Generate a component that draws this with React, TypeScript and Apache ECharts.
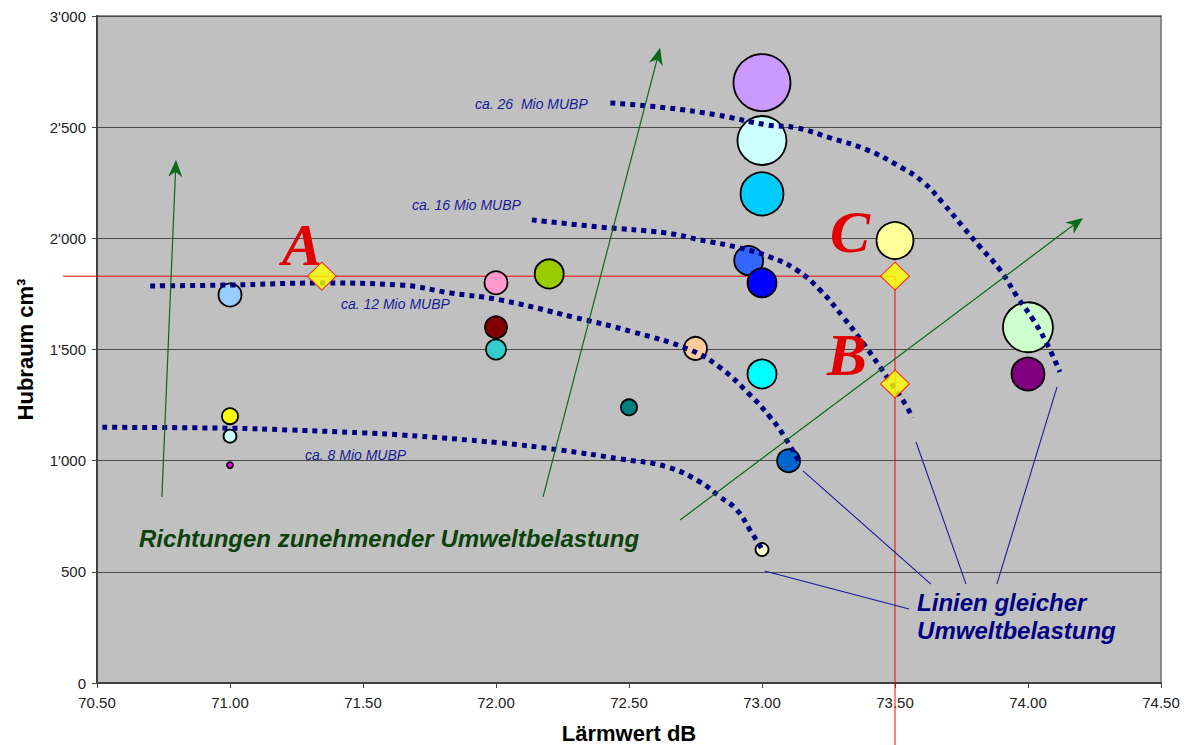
import React, { useEffect, useRef } from "react";
import * as echarts from "echarts";

// ---- Axis ticks ----
const xTicks = [70.5, 71.0, 71.5, 72.0, 72.5, 73.0, 73.5, 74.0, 74.5];
const yTicks = [0, 500, 1000, 1500, 2000, 2500, 3000];

// ---- Vehicles (bubbles): Lärmwert dB, Hubraum cm3, bubble size ----
const bubbleX = [73.0, 73.0, 73.0, 73.5, 72.95, 73.0, 72.2, 72.0, 71.0, 72.0, 72.0, 72.75, 73.0, 74.0, 74.0, 72.5, 73.1, 71.0, 71.0, 71.0, 73.0];
const bubbleY = [2700, 2440, 2200, 1990, 1900, 1800, 1840, 1800, 1745, 1600, 1500, 1505, 1390, 1600, 1390, 1240, 1000, 1200, 1110, 980, 600];
const bubbleSize = [57, 49, 43, 37, 29, 29, 29, 23, 23, 22, 20, 23, 29, 50, 33, 16, 23, 16, 13, 6, 13];
const bubbleColors = ["#CC99FF", "#CCFFFF", "#00CCFF", "#FFFF99", "#3366FF", "#0000FF", "#99CC00", "#FF99CC", "#99CCFF", "#800000", "#33CCCC", "#FFCC99", "#00FFFF", "#CCFFCC", "#800080", "#008080", "#0066CC", "#FFFF00", "#CCFFFF", "#FF00FF", "#FFFFCC"];

// ---- Lines of equal environmental load ----
const line8X = [70.52, 71.0, 71.226, 71.5, 71.64, 72.015, 72.24, 72.466, 72.643, 72.767, 72.842, 72.906, 72.955, 73.0];
const line8Y = [1150, 1146, 1138, 1125, 1116, 1080, 1048, 1008, 972, 904, 837, 778, 688, 602];
const line12X = [70.7, 71.0, 71.34, 71.64, 71.83, 72.015, 72.29, 72.515, 72.73, 72.84, 72.955, 73.03, 73.08, 73.14];
const line12Y = [1786, 1790, 1799, 1790, 1754, 1723, 1646, 1579, 1498, 1421, 1296, 1197, 1116, 994];
const line16X = [72.135, 72.39, 72.64, 72.767, 72.917, 73.03, 73.13, 73.218, 73.305, 73.38, 73.47, 73.545, 73.564];
const line16Y = [2083, 2051, 2024, 1993, 1957, 1916, 1858, 1768, 1646, 1529, 1376, 1242, 1192];
const line26X = [72.43, 72.64, 72.83, 73.02, 73.13, 73.256, 73.395, 73.52, 73.605, 73.68, 73.756, 73.82, 73.895, 73.96, 74.02, 74.07, 74.12];
const line26Y = [2609, 2587, 2555, 2510, 2497, 2452, 2398, 2321, 2254, 2159, 2051, 1961, 1858, 1736, 1633, 1529, 1399];
const lineLabels = ["ca. 8 Mio MUBP", "ca. 12 Mio MUBP", "ca. 16 Mio MUBP", "ca. 26  Mio MUBP"];
const lineLabelX = [71.282, 71.417, 71.684, 71.921];
const lineLabelY = [1025, 1705, 2150, 2604];

// ---- Reference points A, B, C ----
const pointNames = ["A", "B", "C"];
const pointX = [71.345, 73.5, 73.5];
const pointY = [1830, 1345, 1830];
const letterX = [71.271, 73.32, 73.331];
const letterY = [1970, 1475, 2028];

// ---- Annotations (data coordinates) ----
const arrowFromX = [70.744, 72.177, 72.692];
const arrowFromY = [837, 837, 733];
const arrowToX = [70.797, 72.617, 74.207];
const arrowToY = [2353, 2857, 2092];
const leaderFromX = [73.01, 73.154, 73.579, 74.109];
const leaderFromY = [504, 954, 1084, 1331];
const leaderToX = [73.553, 73.635, 73.767, 73.883];
const leaderToY = [333, 445, 445, 445];
const redH = { x0: 70.372, x1: 73.5, y: 1830 };
const redV = { x: 73.5, y0: 1830, y1: -285 };
const directionText = "Richtungen zunehmender Umweltbelastung";
const directionPos = [70.658, 652];
const legendLines = ["Linien gleicher", "Umweltbelastung"];
const legendX = 73.583;
const legendY = [360, 235];

const SANS = "'Liberation Sans', Arial, sans-serif";

function zip(xs: number[], ys: number[]) {
  return xs.map((x, i) => [x, ys[i]]);
}

function fmtY(v: number) {
  if (v < 1000) return String(v);
  const t = Math.floor(v / 1000);
  const r = String(v % 1000).padStart(3, "0");
  return `${t}'${r}`;
}

export default function App() {
  const ref = useRef<HTMLDivElement>(null);

  useEffect(() => {
    if (!ref.current) return;
    const chart = echarts.init(ref.current, undefined, { renderer: "svg" });

    const lineStyle = { color: "#000080", width: 5, type: [5, 5] as any, cap: "butt" as any };
    const mkLine = (xs: number[], ys: number[]) => ({
      type: "line",
      data: zip(xs, ys),
      showSymbol: false,
      symbol: "none",
      smooth: 0.45,
      lineStyle,
      z: 3,
      silent: true,
    });

    chart.setOption({
      animation: false,
      backgroundColor: "#ffffff",
      grid: {
        left: 97,
        top: 16,
        right: 23,
        bottom: 62,
        show: true,
        containLabel: false,
        outerBoundsMode: "none",
        backgroundColor: "#C0C0C0",
        borderColor: "#8a8a8a",
        borderWidth: 2,
      },
      xAxis: {
        type: "value",
        min: xTicks[0],
        max: xTicks[xTicks.length - 1],
        interval: 0.5,
        name: "Lärmwert dB",
        nameLocation: "middle",
        nameGap: 39,
        nameTextStyle: { fontFamily: SANS, fontWeight: "bold", fontSize: 22, color: "#000" },
        axisLine: { lineStyle: { color: "#404040", width: 2 } },
        axisTick: { show: true, length: 5, lineStyle: { color: "#404040", width: 1 } },
        axisLabel: {
          margin: 12,
          fontFamily: SANS,
          fontSize: 15,
          color: "#222",
          formatter: (v: number) => v.toFixed(2),
        },
        splitLine: { show: false },
      },
      yAxis: {
        type: "value",
        min: yTicks[0],
        max: yTicks[yTicks.length - 1],
        interval: 500,
        name: "Hubraum cm³",
        nameLocation: "middle",
        nameGap: 61,
        nameTextStyle: { fontFamily: SANS, fontWeight: "bold", fontSize: 22, color: "#000" },
        axisLine: { show: true, lineStyle: { color: "#404040", width: 2 } },
        axisTick: { show: true, length: 5, lineStyle: { color: "#404040", width: 1 } },
        axisLabel: {
          margin: 11,
          fontFamily: SANS,
          fontSize: 15,
          color: "#222",
          formatter: (v: number) => fmtY(v),
        },
        splitLine: { show: true, lineStyle: { color: "#4a4a4a", width: 1 } },
      },
      series: [
        {
          type: "scatter",
          z: 2,
          silent: true,
          data: bubbleX.map((x, i) => ({
            value: [x, bubbleY[i], bubbleSize[i]],
            itemStyle: { color: bubbleColors[i] },
          })),
          symbol: "circle",
          symbolSize: (v: number[]) => v[2],
          itemStyle: { borderColor: "#000", borderWidth: 1.8, opacity: 1 },
        },
        mkLine(line8X, line8Y),
        mkLine(line12X, line12Y),
        mkLine(line16X, line16Y),
        mkLine(line26X, line26Y),
        {
          type: "scatter",
          z: 4,
          silent: true,
          symbol: "diamond",
          symbolSize: [29, 28],
          data: zip(pointX, pointY),
          itemStyle: { color: "#FFFF00", borderColor: "#FF0000", borderWidth: 1 },
        },
      ],
    });

    const px = (x: number, y: number) =>
      chart.convertToPixel({ gridIndex: 0 }, [x, y]) as number[];

    const graphics: any[] = [];

    // red guide lines
    const h0 = px(redH.x0, redH.y);
    const h1 = px(redH.x1, redH.y);
    graphics.push({
      type: "line",
      z: 1,
      silent: true,
      shape: { x1: h0[0], y1: h0[1], x2: h1[0], y2: h1[1] },
      style: { stroke: "rgba(240,0,0,0.65)", lineWidth: 1.5 },
    });
    const v0 = px(redV.x, redV.y0);
    const v1 = px(redV.x, redV.y1);
    graphics.push({
      type: "line",
      z: 1,
      silent: true,
      shape: { x1: v0[0], y1: v0[1], x2: v1[0], y2: v1[1] },
      style: { stroke: "rgba(240,0,0,0.65)", lineWidth: 1.5 },
    });

    // green arrows
    arrowFromX.forEach((_, i) => {
      const a = px(arrowFromX[i], arrowFromY[i]);
      const b = px(arrowToX[i], arrowToY[i]);
      const dx = b[0] - a[0];
      const dy = b[1] - a[1];
      const len = Math.hypot(dx, dy);
      const ux = dx / len;
      const uy = dy / len;
      const nx = -uy;
      const ny = ux;
      const L = 17;
      const W = 7;
      const notch = 12;
      const base = [b[0] - ux * L, b[1] - uy * L];
      const nb = [b[0] - ux * notch, b[1] - uy * notch];
      graphics.push({
        type: "line",
        z: 10,
        silent: true,
        shape: { x1: a[0], y1: a[1], x2: nb[0], y2: nb[1] },
        style: { stroke: "#0A6A1A", lineWidth: 1.2 },
      });
      graphics.push({
        type: "polygon",
        z: 10,
        silent: true,
        shape: {
          points: [
            [b[0], b[1]],
            [base[0] + nx * W, base[1] + ny * W],
            [nb[0], nb[1]],
            [base[0] - nx * W, base[1] - ny * W],
          ],
        },
        style: { fill: "#0A6A1A" },
      });
    });

    // navy leader lines
    leaderFromX.forEach((_, i) => {
      const a = px(leaderFromX[i], leaderFromY[i]);
      const b = px(leaderToX[i], leaderToY[i]);
      graphics.push({
        type: "line",
        z: 10,
        silent: true,
        shape: { x1: a[0], y1: a[1], x2: b[0], y2: b[1] },
        style: { stroke: "#1A1A9A", lineWidth: 1.1 },
      });
    });

    // curve labels
    lineLabels.forEach((t, i) => {
      const p = px(lineLabelX[i], lineLabelY[i]);
      graphics.push({
        type: "text",
        z: 10,
        silent: true,
        x: p[0],
        y: p[1],
        style: {
          text: t,
          fill: "#1A1A9A",
          font: `italic 14px ${SANS}`,
          align: "left",
          verticalAlign: "middle",
        },
      });
    });

    // letters A, B, C
    pointNames.forEach((t, i) => {
      const p = px(letterX[i], letterY[i]);
      graphics.push({
        type: "text",
        z: 10,
        silent: true,
        x: p[0],
        y: p[1],
        style: {
          text: t,
          fill: "#E00000",
          font: `italic bold 60px 'Liberation Serif', 'Times New Roman', serif`,
          align: "center",
          verticalAlign: "middle",
        },
      });
    });

    // direction text
    const dp = px(directionPos[0], directionPos[1]);
    graphics.push({
      type: "text",
      z: 10,
      silent: true,
      x: dp[0],
      y: dp[1],
      style: {
        text: directionText,
        fill: "#0B420B",
        font: `italic bold 24px ${SANS}`,
        align: "left",
        verticalAlign: "middle",
      },
    });

    // legend text
    legendLines.forEach((t, i) => {
      const p = px(legendX, legendY[i]);
      graphics.push({
        type: "text",
        z: 10,
        silent: true,
        x: p[0],
        y: p[1],
        style: {
          text: t,
          fill: "#000080",
          font: `italic bold 24px ${SANS}`,
          align: "left",
          verticalAlign: "middle",
        },
      });
    });

    chart.setOption({ graphic: graphics });

    return () => {
      chart.dispose();
    };
  }, []);

  return (
    <div
      ref={ref}
      style={{ position: "fixed", left: 0, top: 0, width: 1184, height: 745 }}
    />
  );
}
